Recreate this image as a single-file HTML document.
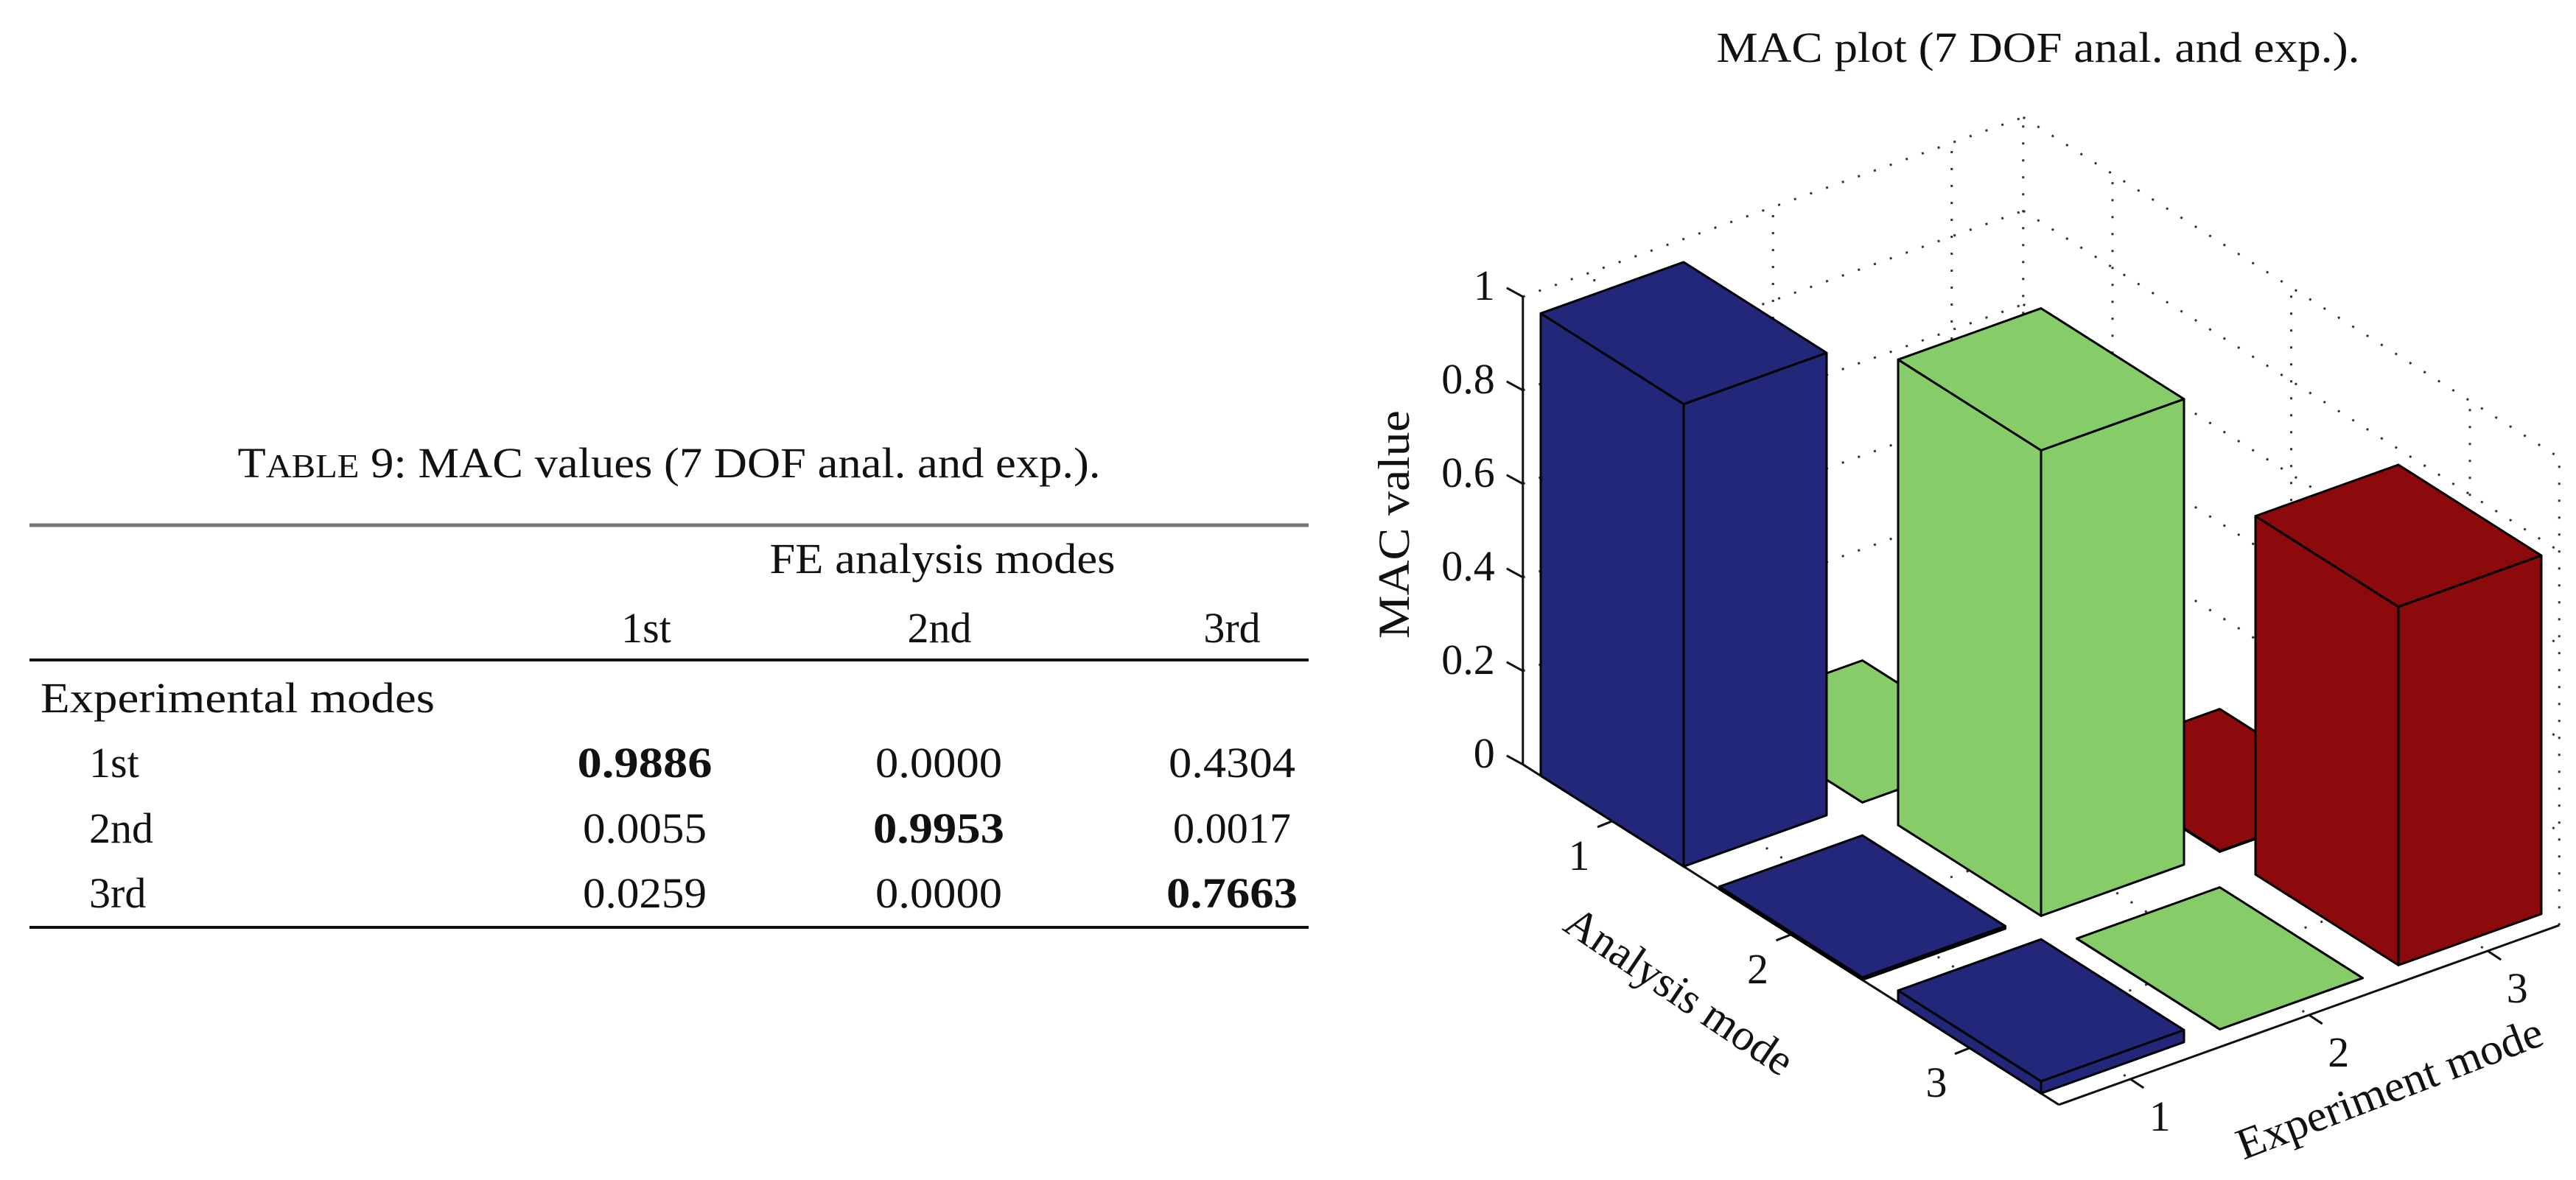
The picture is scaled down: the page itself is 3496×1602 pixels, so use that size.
<!DOCTYPE html>
<html><head><meta charset="utf-8"><style>
html,body{margin:0;padding:0;background:#fff;}
svg{display:block;font-family:"Liberation Serif",serif;}
</style></head><body>
<svg id="fig" width="3496" height="1602" viewBox="0 0 3496 1602" xmlns="http://www.w3.org/2000/svg">
<g font-size="58" fill="#111">
  <text x="908" y="648" text-anchor="middle" textLength="1171" lengthAdjust="spacingAndGlyphs">T<tspan font-size="45">ABLE</tspan> 9: MAC values (7 DOF anal. and exp.).</text>
  <line x1="40" y1="713" x2="1776" y2="713" stroke="#777" stroke-width="5"/>
  <text x="1279" y="778" text-anchor="middle" textLength="469" lengthAdjust="spacingAndGlyphs">FE analysis modes</text>
  <text x="877" y="872" text-anchor="middle">1st</text>
  <text x="1275" y="872" text-anchor="middle">2nd</text>
  <text x="1672" y="872" text-anchor="middle">3rd</text>
  <line x1="40" y1="896" x2="1776" y2="896" stroke="#111" stroke-width="4"/>
  <text x="55" y="967" textLength="535" lengthAdjust="spacingAndGlyphs">Experimental modes</text>
  <text x="121" y="1055">1st</text>
  <text x="121" y="1144">2nd</text>
  <text x="121" y="1232">3rd</text>
  <g text-anchor="middle">
    <text x="875" y="1055" font-weight="bold" textLength="183" lengthAdjust="spacingAndGlyphs">0.9886</text>
    <text x="1274" y="1055" textLength="172" lengthAdjust="spacingAndGlyphs">0.0000</text>
    <text x="1672" y="1055" textLength="172" lengthAdjust="spacingAndGlyphs">0.4304</text>
    <text x="875" y="1144" textLength="168" lengthAdjust="spacingAndGlyphs">0.0055</text>
    <text x="1274" y="1144" font-weight="bold" textLength="178" lengthAdjust="spacingAndGlyphs">0.9953</text>
    <text x="1672" y="1144" textLength="160" lengthAdjust="spacingAndGlyphs">0.0017</text>
    <text x="875" y="1232" textLength="168" lengthAdjust="spacingAndGlyphs">0.0259</text>
    <text x="1274" y="1232" textLength="172" lengthAdjust="spacingAndGlyphs">0.0000</text>
    <text x="1672" y="1232" font-weight="bold" textLength="178" lengthAdjust="spacingAndGlyphs">0.7663</text>
  </g>
  <line x1="40" y1="1259" x2="1776" y2="1259" stroke="#111" stroke-width="4"/>
</g>
<text x="2766" y="84" text-anchor="middle" font-size="58" fill="#111" textLength="873" lengthAdjust="spacingAndGlyphs">MAC plot (7 DOF anal. and exp.).</text>
<g id="chart"></g>
</svg>
<script>
const analysisCats = [1, 2, 3];
const experimentCats = [1, 2, 3];
const seriesExp1 = [0.9886, 0.0055, 0.0259];
const seriesExp2 = [0.0000, 0.9953, 0.0000];
const seriesExp3 = [0.4304, 0.0017, 0.7663];
const zTicks = [0, 0.2, 0.4, 0.6, 0.8, 1];
const zTickLabels = ["0", "0.2", "0.4", "0.6", "0.8", "1"];

const NS = "http://www.w3.org/2000/svg";
const chart = document.getElementById('chart');
const series = [seriesExp1, seriesExp2, seriesExp3];
const colors = ["#22277a", "#86cd6a", "#8c0a0c"];
const A0 = 0.5, A1 = 3.5, E0 = 0.6, E1 = 3.4, Z1 = 1;
function P(a, e, z) { return [1800 + 242.5 * a + 242.5 * e, 1013 + 154 * a - 87 * e - 635 * z]; }
function mk(tag, attrs, parent) { const el = document.createElementNS(NS, tag); for (const k in attrs) el.setAttribute(k, attrs[k]); (parent || chart).appendChild(el); return el; }
function line(p, q, st, parent) { return mk('line', Object.assign({x1: p[0], y1: p[1], x2: q[0], y2: q[1]}, st), parent); }
function poly(pts, st, parent) { return mk('polygon', Object.assign({points: pts.map(p => p.join(',')).join(' ')}, st), parent); }

const grid = mk('g', {});


const dot = {stroke: '#333', 'stroke-width': 3, 'stroke-dasharray': '3 20'};
zTicks.forEach(z => { if (z > 0) { line(P(A0, E0, z), P(A0, E1, z), dot, grid); line(P(A0, E1, z), P(A1, E1, z), dot, grid); } });
experimentCats.forEach(e => { line(P(A0, e, 0), P(A0, e, Z1), dot, grid); line(P(A0, e, 0), P(A1, e, 0), dot, grid); });
analysisCats.forEach(a => { line(P(a, E1, 0), P(a, E1, Z1), dot, grid); line(P(a, E0, 0), P(a, E1, 0), dot, grid); });
line(P(A0, E1, 0), P(A0, E1, Z1), dot, grid);
line(P(A1, E1, 0), P(A1, E1, Z1), dot, grid);

const axes = mk('g', {stroke: '#111', 'stroke-width': 3});


line(P(A0, E0, 0), P(A0, E0, Z1), {}, axes);
line(P(A0, E0, 0), P(A1, E0, 0), {}, axes);
line(P(A1, E0, 0), P(A1, E1, 0), {}, axes);
zTicks.forEach((z, i) => {
  const p = P(A0, E0, z);
  line([p[0] - 22, p[1] - 12], p, {}, axes);
  const t = mk('text', {x: p[0] - 38, y: p[1] + 4, 'text-anchor': 'end', 'font-size': 58, fill: '#111', stroke: 'none'});
  
  
  t.textContent = zTickLabels[i];
});
analysisCats.forEach(a => {
  const p = P(a, E0, 0);
  line(p, [p[0] - 20, p[1] + 8], {}, axes);
  const t = mk('text', {x: p[0] - 45, y: p[1] + 66, 'text-anchor': 'middle', 'font-size': 58, fill: '#111', stroke: 'none'});
  
  
  t.textContent = String(a);
});
experimentCats.forEach(e => {
  const p = P(A1, e, 0);
  line(p, [p[0] + 18, p[1] + 12], {}, axes);
  const t = mk('text', {x: p[0] + 40, y: p[1] + 70, 'text-anchor': 'middle', 'font-size': 58, fill: '#111', stroke: 'none'});
  
  
  t.textContent = String(e);
});

const bars = [];
analysisCats.forEach((a, i) => experimentCats.forEach((e, j) => bars.push({a, e, v: series[j][i], c: colors[j]})));
bars.sort((p, q) => (p.a - p.e) - (q.a - q.e) || (p.a - q.a));
const bg = mk('g', {});


bars.forEach(b => {
  const g = mk('g', {fill: b.c, stroke: '#000', 'stroke-width': 3, 'stroke-linejoin': 'round'}, bg);
  
  
  const a0 = b.a - 0.4, a1 = b.a + 0.4, e0 = b.e - 0.4, e1 = b.e + 0.4, h = b.v;
  poly([P(a0, e0, 0), P(a1, e0, 0), P(a1, e0, h), P(a0, e0, h)], {}, g);
  poly([P(a1, e0, 0), P(a1, e1, 0), P(a1, e1, h), P(a1, e0, h)], {}, g);
  poly([P(a0, e0, h), P(a1, e0, h), P(a1, e1, h), P(a0, e1, h)], {}, g);
});

function label(txt, x, y, rot, name, len) {
  const t = mk('text', {x: 0, y: 0, transform: `translate(${x},${y}) rotate(${rot})`, 'text-anchor': 'middle', 'font-size': 60, fill: '#111', textLength: len, lengthAdjust: 'spacingAndGlyphs'});
  
  
  t.textContent = txt;
}
label('MAC value', 1912, 712, -90, 'z-axis-title', 310);
label('Analysis mode', 2268, 1362, 34, 'analysis-axis-title', 360);
label('Experiment mode', 3250, 1496, -21, 'experiment-axis-title', 440);
</script>
</body></html>
